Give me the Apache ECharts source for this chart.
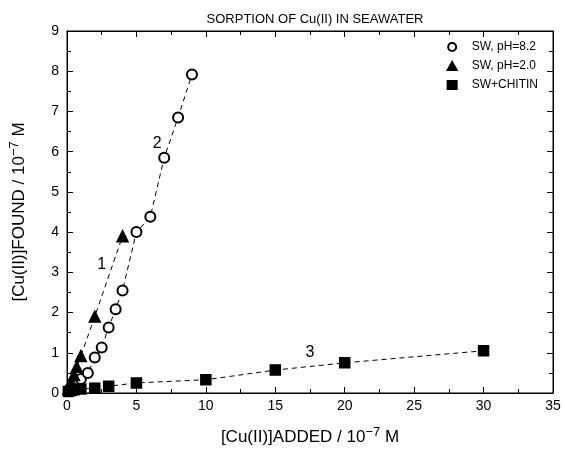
<!DOCTYPE html>
<html>
<head>
<meta charset="utf-8">
<script src="https://cdn.jsdelivr.net/npm/echarts@6/dist/echarts.min.js"></script>
<style>
  body { margin: 0; background: #fff; }
  #chart { width: 565px; height: 459px; }
</style>
</head>
<body>
<div id="chart"></div>
<script>
// data
var seriesNames = ['SW, pH=8.2', 'SW, pH=2.0', 'SW+CHITIN'];
var swPh82 = [[0.2,0.1],[0.5,0.2],[1,0.35],[1.5,0.5],[2,0.88],[2.5,1.13],[3,1.63],[3.5,2.08],[4,2.55],[5,4.0],[6,4.38],[7,5.85],[8,6.85],[9,7.92]];
var swPh20 = [[0.1,0.1],[0.3,0.28],[0.5,0.45],[0.7,0.65],[1,0.92],[2,1.9],[4,3.9]];
var swChitin = [[0.1,0.04],[0.3,0.06],[0.5,0.08],[1,0.1],[2,0.12],[3,0.17],[5,0.25],[10,0.33],[15,0.57],[20,0.75],[30,1.05]];
var curveLabels = [['1', 2.5, 3.2], ['2', 6.5, 6.2], ['3', 17.5, 1.0]];

var chart = echarts.init(document.getElementById('chart'));

var font = 'Liberation Sans';

function dashed(name, data, symbol, size, lbl) {
	return {
		name: name,
		type: 'line',
		data: data,
		symbol: symbol,
		symbolSize: size,
		itemStyle: { color: '#000', borderColor: '#000', borderWidth: 1.5 },
		lineStyle: { color: '#000', width: 1, type: [5, 4] },
		z: 3,
		markPoint: {
			symbol: 'circle',
			symbolSize: 1,
			itemStyle: { color: 'rgba(0,0,0,0)', borderWidth: 0 },
			data: [{ coord: [lbl[1], lbl[2]], value: lbl[0] }],
			label: { show: true, position: 'inside', formatter: '{c}', color: '#000', fontSize: 16, fontFamily: font }
		}
	};
}

function frameAxis(pos, max, interval) {
	return {
		type: 'value', min: 0, max: max, interval: interval, position: pos, show: true,
		axisLine: { show: true, onZero: false, lineStyle: { color: '#000' } },
		axisTick: { show: true, inside: true, length: 6, lineStyle: { color: '#000' } },
		minorTick: { show: true, splitNumber: 2, length: 4, lineStyle: { color: '#000' } },
		axisLabel: { show: false },
		splitLine: { show: false }
	};
}

chart.setOption({
	animation: false,
	title: {
		text: 'SORPTION OF Cu(II) IN SEAWATER',
		left: 310,
		textAlign: 'center',
		top: 8,
		textStyle: { fontSize: 13, fontWeight: 'normal', color: '#000', fontFamily: font }
	},
	legend: {
		orient: 'vertical',
		right: 22,
		top: 36,
		itemGap: 7,
		itemWidth: 9,
		itemHeight: 8,
		textStyle: { fontSize: 12, color: '#000', fontFamily: font, padding: [0, 0, 0, 10] },
		data: [
			{ name: seriesNames[0], icon: 'emptyCircle' },
			{ name: seriesNames[1], icon: 'triangle' },
			{ name: seriesNames[2], icon: 'rect' }
		]
	},
	grid: { left: 67, right: 12, top: 31, bottom: 66, show: true, borderColor: '#000', borderWidth: 1 },
	xAxis: [{
		type: 'value', min: 0, max: 35, interval: 5,
		name: '[Cu(II)]ADDED / 10{sup|−7} M',
		nameLocation: 'middle', nameGap: 33,
		nameTextStyle: { fontSize: 17, color: '#000', fontFamily: font,
			rich: { sup: { fontSize: 13, verticalAlign: 'top', padding: [0, 0, 10, 0], color: '#000' } } },
		axisLine: { lineStyle: { color: '#000' } },
		axisTick: { inside: true, length: 6, lineStyle: { color: '#000' } },
		minorTick: { show: true, splitNumber: 2, length: 4, lineStyle: { color: '#000' } },
		axisLabel: { fontSize: 14, color: '#000', fontFamily: font, margin: 6 },
		splitLine: { show: false }
	}, frameAxis('top', 35, 5)],
	yAxis: [{
		type: 'value', min: 0, max: 9, interval: 1,
		name: '[Cu(II)]FOUND / 10{sup|−7} M',
		nameLocation: 'middle', nameGap: 36,
		nameTextStyle: { fontSize: 17, color: '#000', fontFamily: font,
			rich: { sup: { fontSize: 13, verticalAlign: 'top', padding: [0, 0, 10, 0], color: '#000' } } },
		axisLine: { show: true, lineStyle: { color: '#000' } },
		axisTick: { show: true, inside: true, length: 6, lineStyle: { color: '#000' } },
		minorTick: { show: true, splitNumber: 2, length: 4, lineStyle: { color: '#000' } },
		axisLabel: { fontSize: 14, color: '#000', fontFamily: font, margin: 8 },
		splitLine: { show: false }
	}, frameAxis('right', 9, 1)],
	series: [
		dashed(seriesNames[0], swPh82, 'emptyCircle', 10, curveLabels[1]),
		dashed(seriesNames[1], swPh20, 'triangle', 11, curveLabels[0]),
		dashed(seriesNames[2], swChitin, 'rect', 10, curveLabels[2])
	]
});
</script>
</body>
</html>
